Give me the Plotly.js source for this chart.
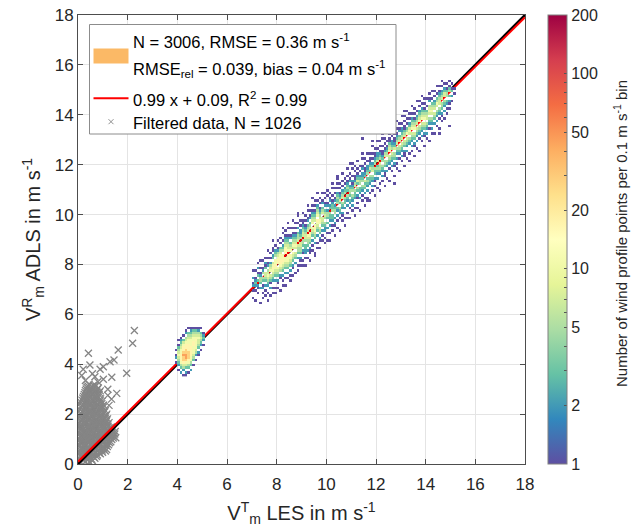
<!DOCTYPE html>
<html>
<head>
<meta charset="utf-8">
<script src="https://cdn.plot.ly/plotly-3.0.1.min.js"></script>
<style>html,body{margin:0;padding:0;background:#fff;}#chart{width:631px;height:532px;}</style>
</head>
<body>
<div id="chart"></div>
<script>
// ---------------- data ----------------
// 2D histogram (0.1 m/s bins): column x-bin index, first y-bin index, per-bin count levels
const colX  = [39,40,41,42,43,44,45,46,47,48,49,50,
  70,71,72,73,74,75,76,77,78,79,80,81,82,83,84,85,86,87,88,89,90,91,92,93,94,95,96,97,98,99,
  100,101,102,103,104,105,106,107,108,109,110,111,112,113,114,115,116,117,118,119,120,121,122,123,124,125,
  126,127,128,129,130,131,132,133,134,135,136,137,138,139,140,141,142,143,144,145,146,147,148,149,150,151];
const colY0 = [40,37,36,35,35,36,37,39,41,43,45,47,
  66,65,66,64,66,66,65,67,66,68,68,69,70,71,73,73,74,76,77,77,79,79,81,81,83,84,85,86,87,88,
  88,89,91,91,93,93,95,95,97,98,99,99,101,101,103,103,105,105,107,107,109,109,111,111,113,113,
  115,115,117,117,119,119,121,121,123,123,125,125,127,127,129,129,131,132,134,134,137,138,140,142,145,148];
const colStr = ["1.21.1","1.234565431.1","2.3467776654321","1.2457889877653.1","12.3568998877654.21",
  "1.346788877766543.1","2.3466777766654321","1.34566677665431","1.245666765431","12.345565421","1.234543.1","1.2321",
  "1..1.21.2..1","1...1.2321..1","..1.12.3.31.2.1","1.....2.34421.1..1","1.1.21.34.421..1",".1.1.2.3455.312.1",
  "1..1..2345654.21.1..1","1..2.1345.6542.1.1","..1.1..23456765.32.11..1","1.1..2.3456766.432.1",
  "..1.12.3456.7765421..1","1....12.4567766543.1.1",".1.1.2.3456776.432.1..1","1..1.2.34566.77654321.1",
  ".1.2.345667.6554321..1.1","1.1.2.34566.6543.21..1",".1..12.3456.5654321.1..1","1...2.345.5654321.1.1",
  "1.1..2.3445.5443.2.1...1","..1.12.34455.4322.1.1","1.1..12.344.5543211..1","1..1.2233.4554321.1.1",
  ".1..2.34456.543.21..1.1","1..112.34566.543.21.1","..1.1.2.3456.654321.1..1","1...2.345676.54321.1.1",
  ".1.1..2.34567.65432.1..1","1..12.345.6654321.1.1","..1.1.2.3455.543.21..1","1.1..2234.4543.21.1.1",
  ".1..1.2.3.3442.21..1.1","1..1..2.2334.32.21.1","..1.1.233.43321.1..1.1","1...12.2.4432.21.1.1",
  ".1..1.2.23.43432.1.1..1","1....1.234.35321.1.1","..1.12.234.5432.1.1..1","1..1...2.334.432.1.1",
  ".1.1..2.234.34321.1..1","1...1.23.34432.21.1","..1.2.234.43212.1..1.1","1..1...2334.54211.1.1",
  ".1.1.12.34.35321.1..1","1....2.233.4432.1.1","..1.1.234.4322.21..1.1","1..1.2.3435.3211.1.1",
  ".1..2.2343.4322.1..1","1..1...2334.353211.1","..1.2.234.5432.1.1..1.1","1...1.12.334.43211.1",
  ".1...2.2343.5322.1..1","1..1...23445.4321.1.1","..1.2.234.43211.1..1.1","1...112.344.5421.1.1",
  ".1..2.234.54321.1...1","1....1.2345.654311.1","..1.2.2345.4322.1..1.1","1...12.344.53211.1.1",
  ".1.1.2.234.54321.1..1","1....1.2345.543.21.1","..1.2.2345.54322.1..1","1...112.345.54311.1.1",
  ".1..2.2345.643.1.1..1","1..1...234.56532.1.1","..1.2.2345.65432.1..1","1...12.345.65431.1.1",
  ".1..2.2345.5432.1...1","1....1.2345.65432.1.1","..1.2.2345.65432.1..1","1...12.345.65431.1.1",
  ".1.2.234.5543.1..1","1....1.234.5654.21.1",".1.2.234.56543.1..1","1...2.345.5432.1.1",
  ".1.2.234.5643.1..1","1...1.234.554321.1","1.12.344.5432.1.1","1..2.234.5532.1",
  "1.1.23.4431.1","1.12.3.431.1","1.2.31.1","1.1"];
// level character -> count per bin
const levelChars  = ["1","2","3","4","5","6","7","8","9"];
const levelCounts = [1, 2, 3, 5, 7, 11, 17, 28, 45];
// isolated single-count bins (x-bin, y-bin)
const outX = [118,114,109,88,82,112,116,127,149,145,124,79,72,131,139,104,95];
const outY = [136,130,120,99,94,102,105,112,135,132,135,70,75,141,127,114,83];

// filtered data (grey crosses), [x, y] pairs
const filtPts = [
  [0.12,0.06],[0.30,0.10],[0.48,0.07],[0.22,0.14],[0.40,0.16],[0.58,0.13],
  [0.05,0.24],[0.20,0.20],[0.38,0.25],[0.55,0.19],[0.68,0.23],
  [0.10,0.31],[0.26,0.28],[0.47,0.32],[0.62,0.29],[0.75,0.30],
  [0.03,0.39],[0.16,0.35],[0.31,0.40],[0.45,0.34],[0.62,0.38],[0.78,0.36],[0.90,0.41],
  [0.09,0.46],[0.24,0.44],[0.39,0.47],[0.54,0.43],[0.70,0.46],[0.85,0.45],[0.99,0.47],
  [0.08,0.55],[0.22,0.50],[0.36,0.54],[0.50,0.49],[0.66,0.53],[0.80,0.51],[0.97,0.56],[1.10,0.52],
  [0.14,0.61],[0.29,0.58],[0.43,0.62],[0.58,0.59],[0.73,0.61],[0.88,0.60],[1.04,0.63],[1.15,0.58],
  [0.02,0.70],[0.15,0.66],[0.29,0.71],[0.44,0.65],[0.58,0.69],[0.73,0.67],[0.88,0.72],[1.02,0.66],[1.18,0.70],
  [0.08,0.77],[0.22,0.74],[0.36,0.78],[0.51,0.75],[0.66,0.77],[0.80,0.74],[0.95,0.78],[1.10,0.75],[1.23,0.77],
  [0.10,0.85],[0.24,0.81],[0.38,0.86],[0.52,0.80],[0.67,0.84],[0.81,0.82],[0.96,0.87],[1.12,0.81],[1.27,0.85],
  [0.03,0.92],[0.17,0.89],[0.31,0.93],[0.45,0.90],[0.59,0.92],[0.74,0.89],[0.88,0.93],[1.04,0.90],[1.19,0.92],[1.32,0.89],
  [0.04,1.00],[0.18,0.96],[0.33,1.01],[0.47,0.95],[0.61,0.99],[0.76,0.97],[0.90,1.02],[1.05,0.96],[1.20,1.00],[1.36,0.98],
  [0.11,1.06],[0.25,1.04],[0.40,1.07],[0.54,1.03],[0.68,1.06],[0.83,1.04],[0.97,1.07],[1.12,1.03],[1.28,1.06],[1.42,1.04],
  [0.11,1.14],[0.26,1.10],[0.40,1.15],[0.55,1.09],[0.70,1.13],[0.84,1.11],[0.99,1.16],[1.15,1.10],[1.30,1.14],[1.44,1.12],
  [0.05,1.21],[0.19,1.18],[0.33,1.22],[0.47,1.19],[0.62,1.21],[0.76,1.18],[0.91,1.22],[1.07,1.19],[1.22,1.21],[1.37,1.18],[1.48,1.20],
  [0.03,1.29],[0.19,1.25],[0.34,1.30],[0.49,1.24],[0.63,1.28],[0.78,1.26],[0.93,1.31],[1.08,1.25],[1.24,1.29],[1.38,1.27],
  [0.11,1.36],[0.26,1.33],[0.41,1.37],[0.56,1.34],[0.71,1.36],[0.86,1.33],[1.01,1.37],[1.16,1.34],[1.31,1.36],
  [0.09,1.44],[0.24,1.40],[0.39,1.45],[0.53,1.39],[0.68,1.43],[0.83,1.41],[0.98,1.46],[1.13,1.40],[1.28,1.44],
  [0.06,1.51],[0.17,1.48],[0.31,1.52],[0.46,1.49],[0.61,1.51],[0.76,1.48],[0.91,1.52],[1.06,1.49],[1.21,1.51],[1.34,1.48],
  [0.02,1.59],[0.16,1.55],[0.31,1.60],[0.46,1.54],[0.60,1.58],[0.75,1.56],[0.90,1.61],[1.05,1.55],[1.20,1.59],
  [0.09,1.66],[0.23,1.63],[0.38,1.67],[0.53,1.64],[0.68,1.66],[0.82,1.63],[0.97,1.67],[1.12,1.64],[1.25,1.66],
  [0.10,1.74],[0.25,1.70],[0.40,1.75],[0.54,1.69],[0.69,1.73],[0.84,1.71],[0.99,1.76],[1.14,1.70],
  [0.03,1.81],[0.17,1.78],[0.32,1.82],[0.47,1.79],[0.62,1.81],[0.76,1.78],[0.91,1.82],[1.06,1.79],[1.19,1.81],
  [0.05,1.89],[0.19,1.85],[0.34,1.90],[0.48,1.84],[0.63,1.88],[0.78,1.86],[0.93,1.91],[1.08,1.85],
  [0.11,1.96],[0.26,1.93],[0.41,1.97],[0.56,1.94],[0.70,1.96],[0.85,1.93],[1.00,1.97],[1.13,1.94],
  [0.12,2.04],[0.27,2.00],[0.42,2.05],[0.56,1.99],[0.71,2.03],[0.86,2.01],[1.01,2.06],[1.16,2.00],
  [0.04,2.11],[0.19,2.08],[0.34,2.12],[0.49,2.09],[0.64,2.11],[0.78,2.08],[0.93,2.12],[1.08,2.09],
  [0.07,2.19],[0.21,2.15],[0.36,2.20],[0.50,2.14],[0.65,2.18],[0.80,2.16],[0.95,2.21],[1.10,2.15],
  [0.13,2.26],[0.28,2.23],[0.43,2.27],[0.57,2.24],[0.72,2.26],[0.87,2.23],[1.02,2.27],
  [0.15,2.34],[0.30,2.30],[0.44,2.35],[0.59,2.29],[0.74,2.33],[0.89,2.31],[1.03,2.36],
  [0.08,2.41],[0.22,2.38],[0.37,2.42],[0.52,2.39],[0.66,2.41],[0.81,2.38],[0.96,2.42],
  [0.10,2.49],[0.24,2.45],[0.38,2.50],[0.53,2.44],[0.68,2.48],[0.83,2.46],[0.97,2.51],
  [0.16,2.56],[0.31,2.53],[0.45,2.57],[0.60,2.54],[0.75,2.56],[0.90,2.53],
  [0.19,2.64],[0.33,2.60],[0.47,2.65],[0.62,2.59],[0.77,2.63],[0.91,2.61],
  [0.22,2.71],[0.36,2.68],[0.51,2.72],[0.66,2.69],[0.80,2.71],
  [0.25,2.79],[0.40,2.75],[0.55,2.80],[0.70,2.74],[0.85,2.78],
  [0.28,2.86],[0.42,2.83],[0.57,2.87],[0.72,2.84],[0.86,2.86],
  [0.30,2.94],[0.45,2.90],[0.60,2.95],[0.76,2.89],[0.90,2.93],
  [0.33,3.01],[0.48,2.98],[0.63,3.02],[0.78,2.99],
  [0.36,3.08],[0.52,3.04],[0.68,3.09],[0.82,3.05],
  [0.40,3.13],[0.56,3.10],[0.72,3.14],[0.45,3.20],[0.62,3.16],
  [0.42,4.44],[0.21,3.80],[0.48,3.97],[0.89,3.80],[1.02,3.90],[1.29,4.10],[1.45,4.17],[1.62,4.57],
  [1.96,3.64],[2.27,5.35],[2.20,4.84],[0.68,3.50],[1.02,3.40],[1.36,3.48],[1.56,2.83],[0.30,3.35],
  [0.80,3.30],[1.20,3.00],[1.35,2.60],[1.50,1.30],[1.52,1.05],[0.15,3.55],[1.25,2.35],[1.20,2.75],
  [0.58,3.62],[1.12,1.75]
];

// fit and 1:1 line
const fitSlope = 0.99, fitIntercept = 0.09;
const lineX = [0, 18];
const binWidth = 0.1;
const axisTicks = [0,2,4,6,8,10,12,14,16,18];
const cbLabelValues = [1,2,5,10,20,50,100,200];
const cbTickValues = [1,2,3,4,5,6,7,8,9,10,20,30,40,50,60,70,80,90,100,200];
const cbMax = 200;

// ---------------- build heatmap grid ----------------
const gMin = 35, gMax = 158;
const nB = gMax - gMin + 1;
const z = [];
for (let j = 0; j < nB; j++) { z.push(new Array(nB).fill(null)); }
const xc = [], yc = [];
for (let i = 0; i < nB; i++) { xc.push((gMin + i + 0.5) * binWidth); yc.push((gMin + i + 0.5) * binWidth); }
for (let c = 0; c < colX.length; c++) {
  const s = colStr[c];
  for (let k = 0; k < s.length; k++) {
    const li = levelChars.indexOf(s[k]);
    if (li < 0) continue;
    const yi = colY0[c] + k - gMin, xi = colX[c] - gMin;
    if (yi >= 0 && yi < nB) z[yi][xi] = Math.log10(levelCounts[li]);
  }
}
for (let k = 0; k < outX.length; k++) {
  const yi = outY[k] - gMin, xi = outX[k] - gMin;
  if (z[yi][xi] === null) z[yi][xi] = 0;
}

const spectral = ['#5e4fa2','#3288bd','#66c2a5','#abdda4','#e6f598','#ffffbf','#fee08b','#fdae61','#f46d43','#d53e4f','#9e0142'];
const cs = spectral.map((c, i) => [i / (spectral.length - 1), c]);

const FONT = 'Liberation Sans, Arial, Helvetica, sans-serif';
const TXT = '#262626';

const traces = [
  { type: 'scatter', mode: 'markers', x: filtPts.map(p => p[0]), y: filtPts.map(p => p[1]), xaxis: 'x', yaxis: 'y',
    marker: { symbol: 'x-thin-open', size: 7, color: '#858585', line: { width: 1.3, color: '#858585' } }, hoverinfo: 'skip' },
  { type: 'scatter', mode: 'lines', x: lineX, y: lineX.map(v => v), xaxis: 'x', yaxis: 'y',
    line: { color: '#000000', width: 2.5 }, hoverinfo: 'skip' },
  { type: 'scatter', mode: 'lines', x: lineX, y: lineX.map(v => fitSlope * v + fitIntercept), xaxis: 'x', yaxis: 'y',
    line: { color: '#ff0000', width: 2 }, hoverinfo: 'skip' },
  { type: 'heatmap', x: xc, y: yc, z: z, xaxis: 'x2', yaxis: 'y2', colorscale: cs,
    zmin: 0, zmax: Math.log10(cbMax), hoverinfo: 'skip',
    colorbar: {
      x: (548 - 78) / 447, xanchor: 'left', xpad: 0, ypad: 0, y: 0.5, yanchor: 'middle',
      len: 1, lenmode: 'fraction', thickness: 19, thicknessmode: 'pixels',
      outlinewidth: 1, outlinecolor: '#808080',
      tickmode: 'array', tickvals: cbTickValues.map(v => Math.log10(v)),
      ticktext: cbTickValues.map(v => cbLabelValues.includes(v) ? String(v) : ''),
      ticks: 'inside', ticklen: 3, tickcolor: '#555', tickwidth: 1,
      tickfont: { family: FONT, size: 16, color: TXT }
    } }
];

function px2x(p) { return (p - 78) / 447; }
function py2y(p) { return (464 - p) / 449; }

const shapes = [
  { type: 'rect', xref: 'paper', yref: 'paper', x0: px2x(89.5), x1: px2x(396), y0: py2y(134), y1: py2y(24.5),
    fillcolor: '#ffffff', line: { color: '#8c8c8c', width: 1 }, layer: 'above' },
  { type: 'rect', xref: 'paper', yref: 'paper', x0: px2x(93.5), x1: px2x(128.5), y0: py2y(63.5), y1: py2y(48.5),
    fillcolor: '#fbb966', line: { width: 0 }, layer: 'above' },
  { type: 'line', xref: 'paper', yref: 'paper', x0: px2x(93.5), x1: px2x(128.5), y0: py2y(98.3), y1: py2y(98.3),
    line: { color: '#ff0000', width: 2 }, layer: 'above' },
  { type: 'line', xref: 'paper', yref: 'paper', x0: px2x(108.5), x1: px2x(113.5), y0: py2y(119.2), y1: py2y(124.2),
    line: { color: '#909090', width: 1 }, layer: 'above' },
  { type: 'line', xref: 'paper', yref: 'paper', x0: px2x(108.5), x1: px2x(113.5), y0: py2y(124.2), y1: py2y(119.2),
    line: { color: '#909090', width: 1 }, layer: 'above' }
];

const legX = px2x(131);
const ann = (txt, py) => ({ xref: 'paper', yref: 'paper', x: legX, y: py2y(py), xanchor: 'left', yanchor: 'middle',
  text: txt, showarrow: false, font: { family: FONT, size: 16.5, color: '#000' } });
const annotations = [
  ann('N = 3006, RMSE = 0.36 m s<sup>-1</sup>', 41.5),
  ann('RMSE<sub>rel</sub> = 0.039, bias = 0.04 m s<sup>-1</sup>', 69),
  ann('0.99 x + 0.09, R<sup>2</sup> = 0.99', 98.5),
  ann('Filtered data, N = 1026', 123),
  { xref: 'paper', yref: 'paper', x: px2x(620), y: py2y(234), xanchor: 'center', yanchor: 'middle', textangle: -90,
    text: 'Number of wind profile points per 0.1 m s<sup>-1</sup> bin', showarrow: false,
    font: { family: FONT, size: 15, color: TXT } }
];

const axBase = {
  range: [0, 18], tickmode: 'array', tickvals: axisTicks, ticks: 'inside', ticklen: 5, tickcolor: '#4d4d4d',
  showline: true, linecolor: '#4d4d4d', linewidth: 1, mirror: 'ticks', showgrid: true, gridcolor: '#e4e4e4',
  zeroline: false, tickfont: { family: FONT, size: 17, color: TXT }, fixedrange: true
};

const layout = {
  width: 631, height: 532, margin: { l: 78, r: 106, t: 15, b: 68 },
  paper_bgcolor: '#ffffff', plot_bgcolor: '#ffffff', showlegend: false, hovermode: false,
  xaxis: Object.assign({}, axBase, { ticklabelstandoff: 5,
    title: { text: 'V<sup>T</sup><sub>m</sub> LES in m s<sup>-1</sup>', standoff: 12,
    font: { family: FONT, size: 20, color: TXT } } }),
  yaxis: Object.assign({}, axBase, { ticklabelstandoff: 0,
    title: { text: 'V<sup>R</sup><sub>m</sub> ADLS in m s<sup>-1</sup>', standoff: 8,
    font: { family: FONT, size: 20, color: TXT } } }),
  xaxis2: { range: [0, 18], overlaying: 'x', visible: false, fixedrange: true },
  yaxis2: { range: [0, 18], overlaying: 'y', visible: false, fixedrange: true },
  shapes: shapes, annotations: annotations
};

Plotly.newPlot('chart', traces, layout, { staticPlot: true, displayModeBar: false });
</script>
</body>
</html>
